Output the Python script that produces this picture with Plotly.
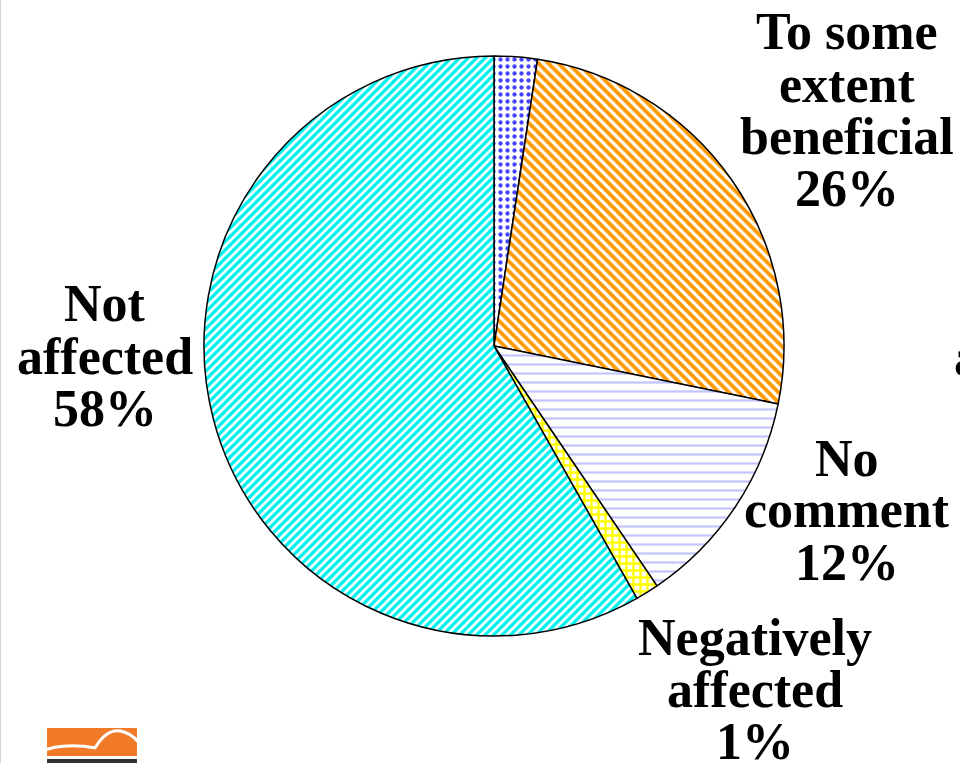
import plotly.graph_objects as go

W, H = 960, 763

# Data (clockwise from 12 o'clock)
categories = ["Very beneficial", "To some extent beneficial", "No comment",
              "Negatively affected", "Not affected"]
values = [2.4, 25.8, 12.3, 1.3, 58.2]
label_lines = {
    "To some extent beneficial": ["To some", "extent", "beneficial", "26%"],
    "Not affected": ["Not", "affected", "58%"],
    "No comment": ["No", "comment", "12%"],
    "Negatively affected": ["Negatively", "affected", "1%"],
}
# label block centre positions (pixels) and line spacing
label_pos = {
    "To some extent beneficial": (847, 32),
    "Not affected": (105, 304),
    "No comment": (847, 458),
    "Negatively affected": (755, 637),
}
LINE = 52

fg = ["#4444FF", "#FF9900", "#C4C4FF", "#FFFF00", "#00F0F0"]
shapes_p = [".", "\\", "-", "+", "/"]
sizes = [7, 7, 9, 7, 6]
solid = [0.3, 0.55, 0.25, 0.55, 0.55]

def px(x):
    return x / W

def py(y):
    return 1 - y / H

cx, cy, r = 494, 346, 290

fig = go.Figure(go.Pie(
    labels=categories, values=values, sort=False, direction="clockwise",
    rotation=0, textinfo="none", hoverinfo="label+percent",
    marker=dict(colors=["white"] * 5,
                line=dict(color="black", width=1.5),
                pattern=dict(shape=shapes_p, fgcolor=fg, bgcolor=["white"] * 5,
                             fgopacity=1, size=sizes, solidity=solid,
                             fillmode="overlay")),
    domain=dict(x=[px(cx - r), px(cx + r)], y=[py(cy + r), py(cy - r)]),
    showlegend=False,
))

font = dict(family="Liberation Serif, Times New Roman, serif", size=52, color="black")
ann = []
for cat, lines in label_lines.items():
    x0, y0 = label_pos[cat]
    for i, t in enumerate(lines):
        ann.append(dict(x=px(x0), y=py(y0 + i * LINE), xref="paper", yref="paper",
                        text="<b>%s</b>" % t, showarrow=False, xanchor="center",
                        yanchor="middle", font=font))
# partially visible label at right edge
ann.append(dict(x=px(952), y=py(357), xref="paper", yref="paper", text="<b>affected</b>",
                showarrow=False, xanchor="left", yanchor="middle", font=font))

fig.update_layout(
    width=W, height=H, margin=dict(l=0, r=0, t=0, b=0),
    paper_bgcolor="white", plot_bgcolor="white",
    annotations=ann,
    xaxis=dict(range=[0, W], visible=False, domain=[0, 1], fixedrange=True),
    yaxis=dict(range=[H, 0], visible=False, domain=[0, 1], fixedrange=True),
)
fig.add_trace(go.Scatter(x=[], y=[], showlegend=False))

shapes = [
    dict(type="line", xref="paper", yref="paper", x0=px(0.5), x1=px(0.5), y0=0, y1=1,
         line=dict(color="#D8D8D8", width=1)),
    dict(type="rect", xref="x", yref="y", x0=47, x1=137, y0=728, y1=756,
         fillcolor="#F07A28", line=dict(width=0), layer="above"),
    dict(type="path", xref="x", yref="y",
         path="M 40 752 Q 62 742 96 748", line=dict(color="white", width=3), layer="above"),
    dict(type="path", xref="x", yref="y",
         path="M 95 748 Q 108 726 124 732 Q 136 736 142 748", line=dict(color="white", width=3),
         layer="above"),
    dict(type="rect", xref="x", yref="y", x0=47, x1=137, y0=759, y1=763,
         fillcolor="#333333", line=dict(width=0), layer="above"),
]
fig.update_layout(shapes=shapes)

fig.write_html("out.html")
